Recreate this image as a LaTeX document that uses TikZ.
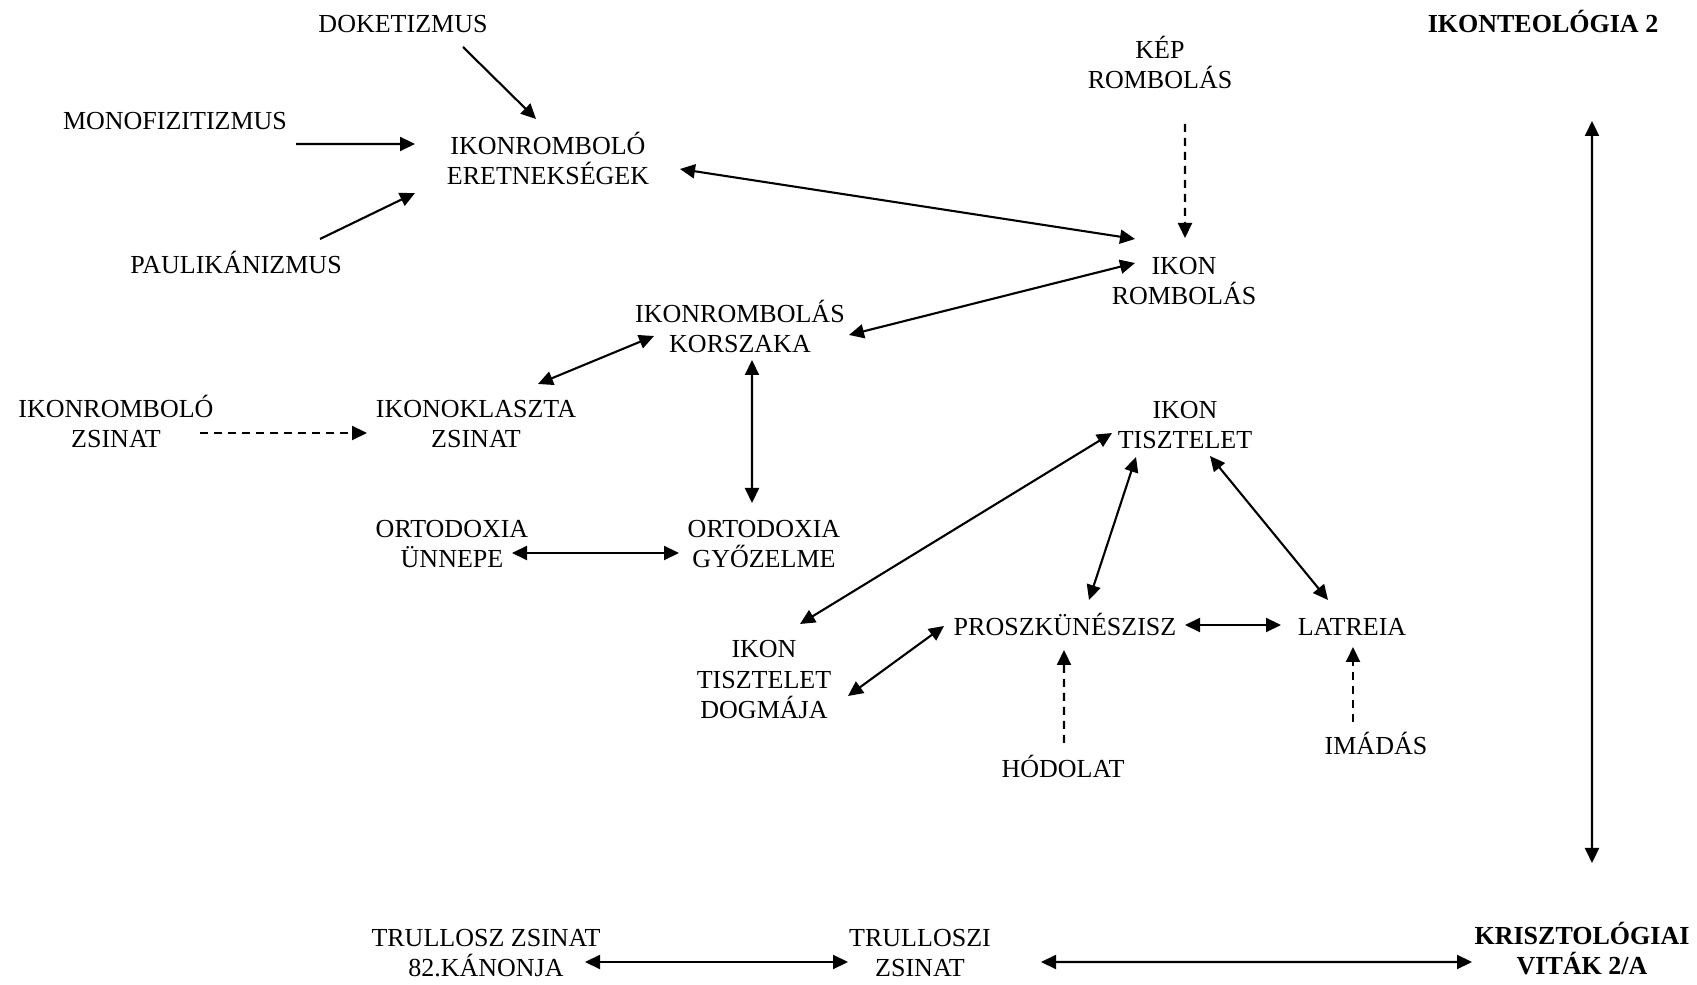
\documentclass[tikz,border=0pt]{standalone}
\usepackage{fontspec}
\setmainfont{Liberation Serif}
\usetikzlibrary{arrows.meta}

\begin{document}
\begin{tikzpicture}[->,>={Triangle[length=0.15cm,width=0.14cm]},semithick,
  term node/.style={align=center,inner sep=0pt,anchor=base,
    font=\fontsize{7.4pt}{8.7pt}\selectfont},
  title node/.style={term node,font=\fontsize{7.4pt}{8.7pt}\selectfont\bfseries},
  hint/.style={dash pattern=on 0.08cm off 0.06cm}]

  \useasboundingbox (0,0) rectangle (16.97,-9.85);

  % base = baseline of the last line
  \node[term node] (dok) at (4.03,-0.33) {DOKETIZMUS};
  \node[term node] (mono) at (1.75,-1.30) {MONOFIZITIZMUS};
  \node[term node] (eret) at (5.48,-1.85) {IKONROMBOLÓ\\ERETNEKSÉGEK};
  \node[term node] (paul) at (2.36,-2.74) {PAULIKÁNIZMUS};
  \node[term node] (kep) at (11.60,-0.89) {KÉP\\ROMBOLÁS};
  \node[term node] (ikonromb) at (11.84,-3.05) {IKON\\ROMBOLÁS};
  \node[title node] (ikonteo) at (15.43,-0.33) {IKONTEOLÓGIA 2};
  \node[term node] (korszak) at (7.40,-3.53) {IKONROMBOLÁS\\KORSZAKA};
  \node[term node] (izsinat) at (1.16,-4.48) {IKONROMBOLÓ\\ZSINAT};
  \node[term node] (iklaszta) at (4.76,-4.48) {IKONOKLASZTA\\ZSINAT};
  \node[term node] (unnep) at (4.52,-5.68) {ORTODOXIA\\ÜNNEPE};
  \node[term node] (gyoz) at (7.64,-5.68) {ORTODOXIA\\GYŐZELME};
  \node[term node] (tisztelet) at (11.85,-4.49) {IKON\\TISZTELET};
  \node[term node] (dogma) at (7.64,-7.19) {IKON\\TISZTELET\\DOGMÁJA};
  \node[term node] (prosz) at (10.65,-6.36) {PROSZKÜNÉSZISZ};
  \node[term node] (latreia) at (13.52,-6.36) {LATREIA};
  \node[term node] (hodolat) at (10.63,-7.78) {HÓDOLAT};
  \node[term node] (imadas) at (13.76,-7.55) {IMÁDÁS};
  \node[term node] (kanon) at (4.86,-9.77) {TRULLOSZ ZSINAT\\82.KÁNONJA};
  \node[term node] (trullo) at (9.20,-9.77) {TRULLOSZI\\ZSINAT};
  \node[title node] (kriszt) at (15.82,-9.75) {KRISZTOLÓGIAI\\VITÁK 2/A};

  % eretnekségek
  \path
    ([shift={(0.60,-0.14)}]dok.base) edge ([shift={(-0.12,0.66)}]eret.base)
    ([shift={(1.21,-0.14)}]mono.base) edge ([shift={(-1.33,0.41)}]eret.base)
    ([shift={(0.84,0.35)}]paul.base) edge ([shift={(-1.33,-0.08)}]eret.base)
    ([shift={(1.32,0.16)}]eret.base) edge[<->] ([shift={(-0.49,0.66)}]ikonromb.base)
    ([shift={(0.25,-0.35)}]kep.base) edge[hint] ([shift={(0.01,0.67)}]ikonromb.base)
    ([shift={(-0.49,0.42)}]ikonromb.base) edge[<->] ([shift={(1.09,0.18)}]korszak.base)
  % korszak
    ([shift={(-0.86,0.17)}]korszak.base) edge[<->] ([shift={(0.62,0.64)}]iklaszta.base)
    ([shift={(0.12,-0.07)}]korszak.base) edge[<->] ([shift={(-0.12,0.65)}]gyoz.base)
    ([shift={(0.84,0.15)}]izsinat.base) edge[hint] ([shift={(-1.09,0.15)}]iklaszta.base)
    ([shift={(0.60,0.15)}]unnep.base) edge[<->] ([shift={(-0.85,0.15)}]gyoz.base)
  % tisztelet
    ([shift={(-0.73,0.16)}]tisztelet.base) edge[<->] ([shift={(0.36,0.95)}]dogma.base)
    ([shift={(-0.49,-0.08)}]tisztelet.base) edge[<->] ([shift={(0.24,0.36)}]prosz.base)
    ([shift={(0.25,-0.07)}]tisztelet.base) edge[<->] ([shift={(-0.24,0.36)}]latreia.base)
    ([shift={(1.20,0.11)}]prosz.base) edge[<->] ([shift={(-0.71,0.11)}]latreia.base)
    ([shift={(0.84,0.23)}]dogma.base) edge[<->] ([shift={(-1.21,0.10)}]prosz.base)
    ([shift={(0.01,0.35)}]hodolat.base) edge[hint] ([shift={(-0.01,-0.14)}]prosz.base)
    ([shift={(-0.23,0.33)}]imadas.base) edge[hint] ([shift={(0.01,-0.11)}]latreia.base)
  % trullosz
    ([shift={(0.99,0.15)}]kanon.base) edge[<->] ([shift={(-0.72,0.15)}]trullo.base)
    ([shift={(1.21,0.15)}]trullo.base) edge[<->] ([shift={(-1.10,0.13)}]kriszt.base)
    ([shift={(0.49,-0.88)}]ikonteo.base) edge[<->] ([shift={(0.10,1.12)}]kriszt.base);
\end{tikzpicture}
\end{document}
